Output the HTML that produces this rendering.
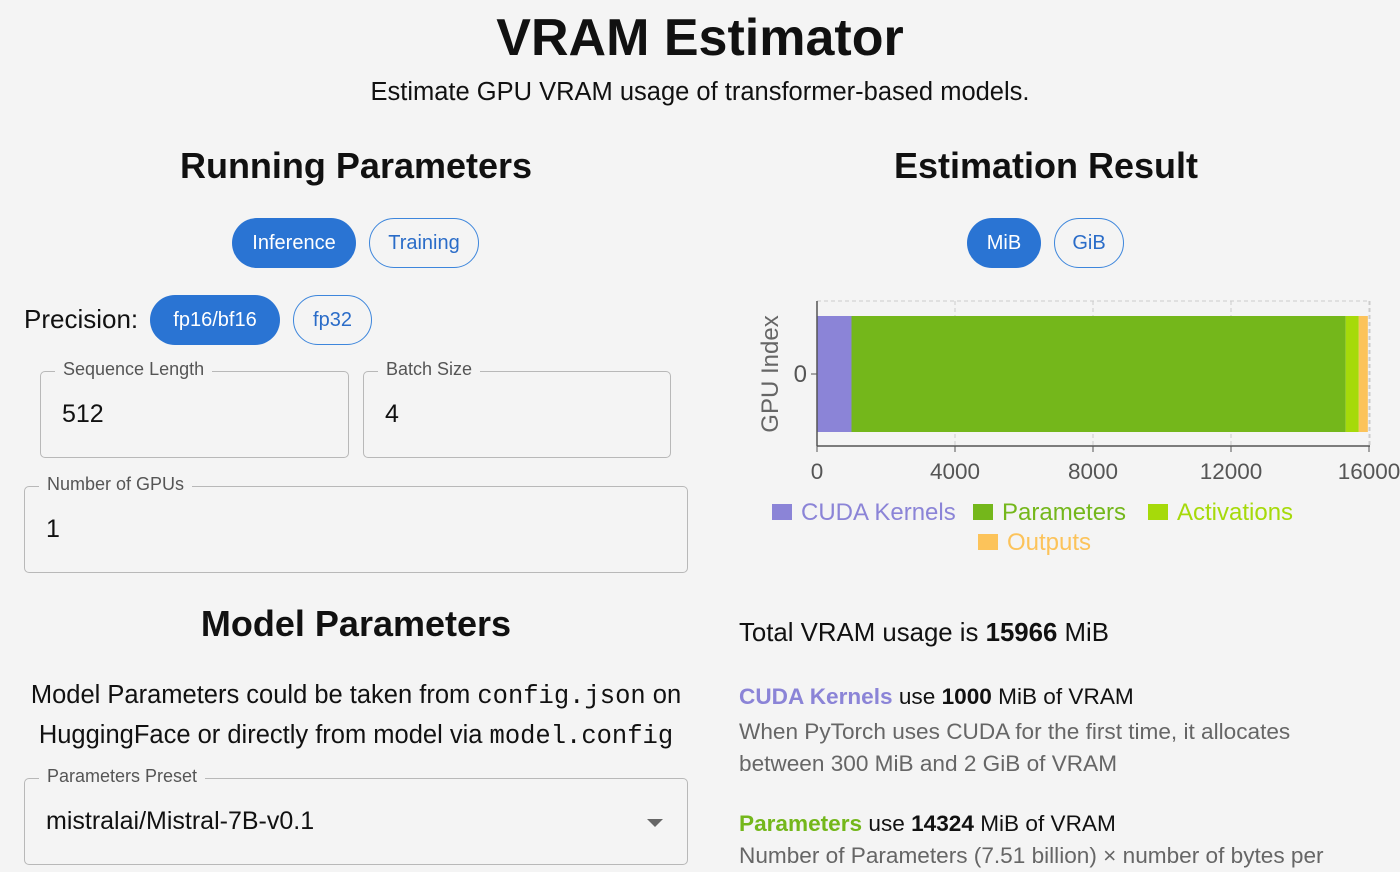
<!DOCTYPE html>
<html><head><meta charset="utf-8">
<style>
body{margin:0;width:1400px;height:872px;background:#f4f4f4;font-family:"Liberation Sans",sans-serif;overflow:hidden;position:relative;color:#111}
.a{position:absolute}
.c{text-align:center}
h1,h2{margin:0;font-weight:bold}
.btn{position:absolute;box-sizing:border-box;border-radius:26px;font-size:20px;display:flex;align-items:center;justify-content:center}
.on{background:#2a74d3;color:#fff}
.off{border:1.5px solid #3d86dc;color:#2a6cc8;background:transparent}
.field{position:absolute;box-sizing:border-box;border:1.3px solid #b8b8b8;border-radius:5px}
.field .lbl{position:absolute;top:-13px;left:14px;padding:0 8px;background:#f4f4f4;font-size:18px;color:#555}
.field .val{position:absolute;left:21px;top:28px;font-size:25px;color:#111}
.mono{font-family:"Liberation Mono",monospace}
.txt{font-size:24px;color:#111}
.gray{color:#666}
</style></head><body>
<h1 class="a c" style="left:0;width:1400px;top:8px;font-size:52px">VRAM Estimator</h1>
<div class="a c txt" style="left:0;width:1400px;top:78px;font-size:25.5px">Estimate GPU VRAM usage of transformer-based models.</div>

<h2 class="a c" style="left:0;width:712px;top:145px;font-size:36px">Running Parameters</h2>
<div class="btn on" style="left:232px;top:218px;width:124px;height:50px">Inference</div>
<div class="btn off" style="left:369px;top:218px;width:110px;height:50px">Training</div>
<div class="a txt" style="left:24px;top:304px;font-size:26px">Precision:</div>
<div class="btn on" style="left:150px;top:295px;width:130px;height:50px">fp16/bf16</div>
<div class="btn off" style="left:293px;top:295px;width:79px;height:50px">fp32</div>

<div class="field" style="left:40px;top:371px;width:309px;height:87px"><span class="lbl">Sequence Length</span><span class="val">512</span></div>
<div class="field" style="left:363px;top:371px;width:308px;height:87px"><span class="lbl">Batch Size</span><span class="val">4</span></div>
<div class="field" style="left:24px;top:486px;width:664px;height:87px"><span class="lbl">Number of GPUs</span><span class="val">1</span></div>

<h2 class="a c" style="left:0;width:712px;top:603px;font-size:36px">Model Parameters</h2>
<div class="a c txt" style="left:0;width:712px;top:676px;line-height:39px;font-size:25.5px">Model Parameters could be taken from <span class="mono">config.json</span> on<br>HuggingFace or directly from model via <span class="mono">model.config</span></div>
<div class="field" style="left:24px;top:778px;width:664px;height:87px"><span class="lbl">Parameters Preset</span><span class="val">mistralai/Mistral-7B-v0.1</span>
<div class="a" style="left:622px;top:40px;width:0;height:0;border-left:8px solid transparent;border-right:8px solid transparent;border-top:8px solid #666"></div></div>

<h2 class="a c" style="left:700px;width:692px;top:145px;font-size:36px">Estimation Result</h2>
<div class="btn on" style="left:967px;top:218px;width:74px;height:50px">MiB</div>
<div class="btn off" style="left:1054px;top:218px;width:70px;height:50px">GiB</div>

<svg class="a" id="chart" style="left:740px;top:290px" width="660" height="270"></svg>

<div class="a txt" style="left:739px;top:619px;font-size:25.8px">Total VRAM usage is <b>15966</b> MiB</div>
<div class="a txt" style="left:739px;top:684px;font-size:22.6px"><b style="color:#8b84d7">CUDA Kernels</b> use <b>1000</b> MiB of VRAM</div>
<div class="a gray" style="left:739px;top:716px;font-size:22.6px;line-height:32px">When PyTorch uses CUDA for the first time, it allocates<br>between 300 MiB and 2 GiB of VRAM</div>
<div class="a txt" style="left:739px;top:811px;font-size:22.6px"><b style="color:#74b71b">Parameters</b> use <b>14324</b> MiB of VRAM</div>
<div class="a gray" style="left:739px;top:843px;font-size:22.6px">Number of Parameters (7.51 billion) × number of bytes per</div>

<script>
const categories=["CUDA Kernels","Parameters","Activations","Outputs"];
const values=[1000,14324,380,262];
const colors=["#8b84d7","#74b71b","#a6da0a","#fcc35a"];
const ticks=[0,4000,8000,12000,16000];
const svg=document.getElementById('chart');
const NS='http://www.w3.org/2000/svg';
const x0=77,x1=629,yTop=11,yBot=156;
const xs=v=>x0+(v-0)/(16000)*(x1-x0);
function mk(t,a){const e=document.createElementNS(NS,t);for(const k in a)e.setAttribute(k,a[k]);svg.appendChild(e);return e;}
let g=mk('line',{x1:x0,x2:630,y1:yTop,y2:yTop,stroke:'#ccc','stroke-dasharray':'4,3'});


let gr=mk('line',{x1:630,x2:630,y1:yTop,y2:yBot,stroke:'#ccc','stroke-dasharray':'4,3'});


ticks.forEach(t=>{
  if(t>0){const l=mk('line',{x1:xs(t),x2:xs(t),y1:yTop,y2:yBot,stroke:'#ccc','stroke-dasharray':'4,3'});
  
  }
  const tk=mk('line',{x1:xs(t),x2:xs(t),y1:yBot,y2:yBot+6,stroke:'#555'});
  
  
  const tx=mk('text',{x:xs(t),y:189,'text-anchor':'middle','font-size':22.5,fill:'#555','font-family':'Liberation Sans, sans-serif'});
  tx.textContent=t;
  
  
});
let acc=0;
values.forEach((v,i)=>{
  const r=mk('rect',{x:xs(acc),y:26,width:xs(acc+v)-xs(acc),height:116,fill:colors[i]});
  
  
  acc+=v;
});
let ax=mk('line',{x1:x0,x2:x0,y1:yTop,y2:yBot,stroke:'#555','stroke-width':1.5});


let bx=mk('line',{x1:x0,x2:630,y1:yBot,y2:yBot,stroke:'#555','stroke-width':1.5});


let yt=mk('line',{x1:x0-6,x2:x0,y1:84,y2:84,stroke:'#555'});


let yl=mk('text',{x:x0-10,y:92,'text-anchor':'end','font-size':24,fill:'#555','font-family':'Liberation Sans, sans-serif'});
yl.textContent='0';


let ytl=mk('text',{x:0,y:0,transform:'translate(38,84) rotate(-90)','text-anchor':'middle','font-size':24,fill:'#666','font-family':'Liberation Sans, sans-serif'});
ytl.textContent='GPU Index';


const legPos=[[32,221],[233,221],[408,221],[238,251]];
categories.forEach((c,i)=>{
  const r=mk('rect',{x:legPos[i][0],y:legPos[i][1]-7,width:20,height:16,fill:colors[i]});
  
  
  const t=mk('text',{x:legPos[i][0]+29,y:legPos[i][1]+9,'font-size':24,fill:colors[i],'font-family':'Liberation Sans, sans-serif'});
  t.textContent=c;
  
  
});
</script>
</body></html>
